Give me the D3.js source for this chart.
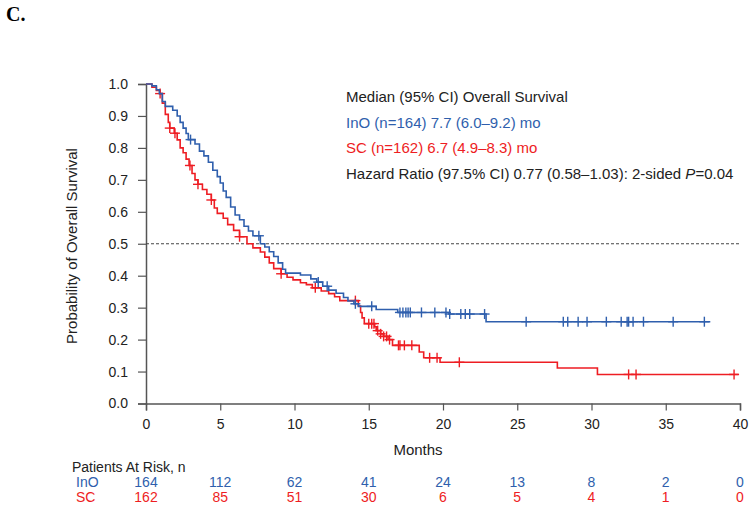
<!DOCTYPE html>
<html><head><meta charset="utf-8">
<script src="https://cdn.jsdelivr.net/npm/d3@7"></script>
<style>body{margin:0;background:#fff}svg{display:block}text{font-family:"Liberation Sans",Arial,sans-serif}</style>
</head><body><svg id="c" width="751" height="508"></svg>
<script>
// InO (blue) step points: [months, survival]
const inoTimes = [0,0.4,0.7,0.9,1.1,1.3,1.8,2.1,2.3,2.5,2.7,2.85,3.3,3.6,3.9,4.2,4.5,4.8,5.0,5.2,5.4,5.7,6.0,6.3,6.6,6.9,7.2,7.7,8.0,8.3,8.6,8.9,9.2,9.4,10.4,11.1,11.5,11.9,12.3,12.8,13.3,13.6,14.0,14.3,15.5,16.95,20.4,22.9];
const inoSurv  = [1.0,0.994,0.982,0.97,0.945,0.93,0.918,0.90,0.88,0.862,0.845,0.826,0.812,0.79,0.775,0.755,0.73,0.71,0.69,0.665,0.645,0.615,0.59,0.575,0.555,0.54,0.525,0.50,0.49,0.475,0.46,0.44,0.42,0.408,0.402,0.39,0.38,0.367,0.355,0.345,0.332,0.321,0.312,0.304,0.294,0.285,0.28,0.256];
const inoEnd = 38.0;
const inoCensor = [3.0,7.6,11.6,12.2,14.1,15.2,17.1,17.3,17.5,17.65,17.8,18.55,19.45,20.2,20.45,21.2,21.5,21.8,22.8,25.6,28.1,28.4,29.1,29.7,31.0,32.0,32.4,32.5,32.8,33.5,35.5,37.6];
// SC (red)
const scTimes = [0,0.4,0.7,0.95,1.1,1.3,1.5,1.6,1.9,2.1,2.3,2.5,2.7,2.9,3.1,3.3,3.5,3.8,4.1,4.4,4.6,4.8,5.2,5.5,5.9,6.3,6.8,7.2,7.7,8.0,8.3,8.6,9.1,9.5,9.9,10.4,10.8,11.2,11.8,12.3,12.7,13.05,14.3,14.45,14.55,14.7,15.4,15.5,15.8,16.0,16.3,16.6,18.4,18.7,19.8,27.7,30.4];
const scSurv  = [1.0,0.99,0.98,0.97,0.94,0.905,0.88,0.862,0.846,0.825,0.80,0.785,0.765,0.745,0.72,0.70,0.686,0.67,0.655,0.637,0.612,0.595,0.58,0.56,0.542,0.522,0.50,0.487,0.474,0.458,0.44,0.422,0.406,0.395,0.387,0.378,0.372,0.362,0.352,0.344,0.334,0.322,0.305,0.285,0.268,0.25,0.24,0.228,0.218,0.21,0.2,0.182,0.161,0.143,0.129,0.111,0.091];
const scEnd = 39.9;
const scCensor = [0.95,1.6,1.95,2.96,3.5,4.4,6.3,9.1,11.4,14.1,15.0,15.2,15.35,15.6,15.8,16.0,16.2,16.4,17.0,17.1,17.4,17.9,19.1,19.6,21.1,32.5,33.0,39.6];

const xTicks = [0,5,10,15,20,25,30,35,40];
const yTicks = [0,0.1,0.2,0.3,0.4,0.5,0.6,0.7,0.8,0.9,1.0];
const riskGroups = ["InO","SC"];
const riskIno = [164,112,62,41,24,13,8,2,0];
const riskSc = [162,85,51,30,6,5,4,1,0];
const legendLines = ["Median (95% CI) Overall Survival","InO (n=164) 7.7 (6.0\u20139.2) mo","SC (n=162) 6.7 (4.9\u20138.3) mo"];

const BLUE = "#2f5fad", RED = "#ee1d23", AX = "#555";
const svg = d3.select("#c");
const x = d3.scaleLinear().domain([0,40]).range([146,740]);
const y = d3.scaleLinear().domain([0,1]).range([403.5,84]);

svg.append("text").attr("x",6).attr("y",21).attr("font-family","Liberation Serif, Times New Roman, serif")
  .style("font-family","'Liberation Serif',serif").attr("font-weight","bold").attr("font-size",20).text("C.");

// axes
const xa = svg.append("g").attr("transform","translate(0,403.5)")
  .call(d3.axisBottom(x).tickValues(xTicks).tickSize(7).tickFormat(d3.format("d")));
const ya = svg.append("g").attr("transform","translate(146,0)")
  .call(d3.axisLeft(y).tickValues(yTicks).tickSize(8).tickFormat(d3.format(".1f")));
[xa,ya].forEach(g=>{
  g.select(".domain").attr("stroke",AX).attr("stroke-width",1.5);
  g.selectAll(".tick line").attr("stroke",AX).attr("stroke-width",1.2);
  g.selectAll("text").attr("fill","#222").attr("font-size",14).style("font-family","'Liberation Sans',Arial,sans-serif");
});
xa.selectAll("text").attr("dy","1.1em");
ya.selectAll("text").attr("x",-18);

// dashed median line
svg.append("line").attr("x1",x(0)).attr("x2",x(40)).attr("y1",y(0.5)).attr("y2",y(0.5))
  .attr("stroke","#444").attr("stroke-width",1).attr("stroke-dasharray","3,2");

function drawKM(times,surv,end,cens,color){
  const pts = times.map((t,i)=>[t,surv[i]]);
  pts.push([end,surv[surv.length-1]]);
  const line = d3.line().x(d=>x(d[0])).y(d=>y(d[1])).curve(d3.curveStepAfter);
  svg.append("path").attr("d",line(pts)).attr("fill","none").attr("stroke",color).attr("stroke-width",1.6);
  const at = t=>{let s=surv[0];for(let i=0;i<times.length;i++){if(times[i]<=t)s=surv[i];}return s;};
  const g = svg.append("g").attr("stroke",color).attr("stroke-width",1.4);
  cens.forEach(t=>{
    const cx=x(t), cy=y(at(t));
    g.append("line").attr("x1",cx).attr("x2",cx).attr("y1",cy-5).attr("y2",cy+5);
    g.append("line").attr("x1",cx-5).attr("x2",cx+5).attr("y1",cy).attr("y2",cy);
  });
}
drawKM(scTimes,scSurv,scEnd,scCensor,RED);
drawKM(inoTimes,inoSurv,inoEnd,inoCensor,BLUE);

// labels
svg.append("text").attr("transform","translate(77,246) rotate(-90)").attr("text-anchor","middle")
  .attr("font-size",15).attr("fill","#222").text("Probability of Overall Survival");
svg.append("text").attr("x",418).attr("y",455).attr("text-anchor","middle").attr("font-size",15).attr("fill","#222").text("Months");

// legend
const legColors = ["#222",BLUE,RED];
legendLines.forEach((s,i)=>{
  svg.append("text").attr("x",346).attr("y",102+i*25.5).attr("font-size",15).attr("fill",legColors[i]).text(s);
});
const hz = svg.append("text").attr("x",346).attr("y",178.5).attr("font-size",15).attr("fill","#222");
hz.append("tspan").text("Hazard Ratio (97.5% CI) 0.77 (0.58\u20131.03): 2-sided ");
hz.append("tspan").attr("font-style","italic").text("P");
hz.append("tspan").text("=0.04");

// risk table
svg.append("text").attr("x",72).attr("y",472).attr("font-size",14).attr("fill","#222").text("Patients At Risk, n");
[[riskIno,BLUE,487],[riskSc,RED,502]].forEach(([vals,c,yy],k)=>{
  svg.append("text").attr("x",76).attr("y",yy).attr("font-size",14).attr("fill",c).text(riskGroups[k]);
  svg.selectAll(null).data(vals).enter().append("text").attr("x",(d,i)=>x(xTicks[i])).attr("y",yy)
    .attr("text-anchor","middle").attr("font-size",14).attr("fill",c).text(d=>d);
});
</script></body></html>
